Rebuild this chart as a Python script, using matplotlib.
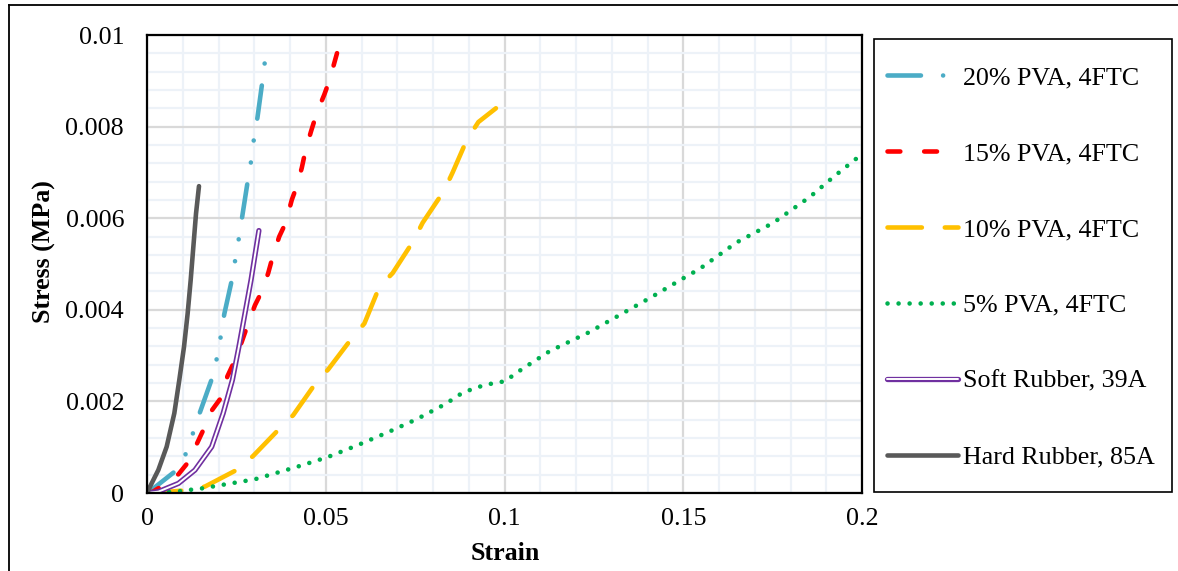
import matplotlib
matplotlib.use("Agg")
import matplotlib.pyplot as plt
from matplotlib.lines import Line2D
from matplotlib.patches import Rectangle
from matplotlib.legend_handler import HandlerTuple

plt.rcParams['font.family'] = ['Liberation Serif', 'DejaVu Serif']

# ---------------- data (strain, stress MPa) ----------------
pva20_x = [0, 0.0013, 0.0083, 0.0111, 0.013, 0.0148, 0.0184, 0.0197, 0.0207, 0.0216, 0.0239,
           0.0248, 0.0258, 0.0267, 0.0283, 0.0293, 0.0300, 0.0309, 0.0323, 0.0331]
pva20_y = [0, 0.00007, 0.0005, 0.00089, 0.00134, 0.00176, 0.00255, 0.0030, 0.00345, 0.0039, 0.00471,
           0.00515, 0.00561, 0.00607, 0.00687, 0.00733, 0.0078, 0.0082, 0.0090, 0.0095]

pva15_x = [0, 0.0017, 0.0041, 0.0088, 0.0116, 0.0141, 0.0162, 0.0181, 0.0209, 0.0225, 0.0246,
           0.0265, 0.0283, 0.0302, 0.0321, 0.0339, 0.0353, 0.0370, 0.0388, 0.0405, 0.0419,
           0.0433, 0.0444, 0.0459, 0.0475, 0.0496, 0.0510, 0.0535]
pva15_y = [0, 0.00003, 0.00015, 0.00041, 0.00068, 0.0011, 0.00145, 0.0018, 0.0021, 0.00255, 0.0029,
           0.0033, 0.0037, 0.0041, 0.0044, 0.0048, 0.0052, 0.0056, 0.0059, 0.0064, 0.0067,
           0.0071, 0.0075, 0.0079, 0.0083, 0.0087, 0.0090, 0.0097]

pva10_x = [0, 0.005, 0.011, 0.0162, 0.0255, 0.0297, 0.037, 0.0409, 0.0472, 0.0507, 0.0575,
           0.0608, 0.065, 0.0687, 0.0745, 0.0771, 0.0831, 0.0855, 0.0894, 0.0927, 0.0976]
pva10_y = [0, 0.00002, 0.00006, 0.00014, 0.00052, 0.00081, 0.0014, 0.0017, 0.0024, 0.0027, 0.0034,
           0.0037, 0.0045, 0.0048, 0.0055, 0.0059, 0.0066, 0.0070, 0.0077, 0.0081, 0.0084]

pva5_x = [0, 0.008, 0.0153, 0.0302, 0.0419, 0.0504, 0.0588, 0.0672, 0.0754, 0.0834, 0.0885,
          0.0945, 0.1001, 0.1048, 0.1127, 0.1234, 0.1314, 0.1416, 0.1496, 0.1547, 0.1649,
          0.1752, 0.1855, 0.192, 0.2]
pva5_y = [0, 0.00003, 0.0001, 0.0003, 0.00057, 0.00078, 0.00104, 0.00132, 0.00161, 0.00194, 0.0022,
          0.00236, 0.00244, 0.0027, 0.0031, 0.0035, 0.00385, 0.0043, 0.00467, 0.0049, 0.00547,
          0.0059, 0.00647, 0.0069, 0.0074]

soft_x = [0, 0.0032, 0.0088, 0.0134, 0.0181, 0.0213, 0.0239, 0.0257, 0.0274, 0.0291, 0.0313]
soft_y = [0, 0.00003, 0.00021, 0.0005, 0.00101, 0.00174, 0.00247, 0.00319, 0.00392, 0.00465, 0.00573]

hard_x = [0, 0.00084, 0.00317, 0.0055, 0.00764, 0.00904, 0.01035, 0.01137, 0.01222, 0.01297, 0.01371, 0.01454]
hard_y = [0, 0.000138, 0.000502, 0.00101, 0.00174, 0.00247, 0.00319, 0.00392, 0.00465, 0.00538, 0.0061, 0.0067]

labels = ['20% PVA, 4FTC', '15% PVA, 4FTC', '10% PVA, 4FTC', '5% PVA, 4FTC',
          'Soft Rubber, 39A', 'Hard Rubber, 85A']
x_ticks = [0, 0.05, 0.1, 0.15, 0.2]
x_tick_labels = ['0', '0.05', '0.1', '0.15', '0.2']
y_ticks = [0, 0.002, 0.004, 0.006, 0.008, 0.01]
y_tick_labels = ['0', '0.002', '0.004', '0.006', '0.008', '0.01']

# ---------------- figure ----------------
W, H = 1178, 571
fig = plt.figure(figsize=(W / 100, H / 100), dpi=100)
ax = fig.add_axes([147 / W, 1 - 493 / H, (862 - 147) / W, (493 - 35) / H])

FS = 18.7
LW = 3.3

ax.set_xlim(0, 0.2)
ax.set_ylim(0, 0.01)
ax.set_xticks(x_ticks)
ax.set_xticklabels(x_tick_labels)
ax.set_yticks(y_ticks)
ax.set_yticklabels(y_tick_labels)
ax.set_xticks([i * 0.01 for i in range(21)], minor=True)
ax.set_yticks([i * 0.0004 for i in range(26)], minor=True)
ax.tick_params(which='both', length=0)
ax.tick_params(axis='x', pad=11, labelsize=FS)
ax.tick_params(axis='y', pad=16.5, labelsize=FS)
ax.grid(which='minor', color='#EDF2F8', linewidth=1.6, zorder=0)
ax.grid(which='major', color='#D9D9D9', linewidth=1.6, zorder=0)
ax.set_axisbelow(True)
for s in ax.spines.values():
    s.set_linewidth(1.6)
    s.set_color('black')
    s.set_zorder(10)

l20, = ax.plot(pva20_x, pva20_y, color='#4BACC6', lw=LW,
               linestyle=(0, (7.3, 4.83, 0.01, 4.83, 0.01, 4.83)),
               dash_capstyle='round', solid_capstyle='round', zorder=3)
l15, = ax.plot(pva15_x, pva15_y, color='#FF0000', lw=LW,
               linestyle=(0, (2.8, 5.2)), dash_capstyle='round', zorder=4)
l10, = ax.plot(pva10_x, pva10_y, color='#FFC000', lw=LW,
               linestyle=(0, (7.5, 5.0)), dash_capstyle='round', zorder=5)
l5, = ax.plot(pva5_x, pva5_y, color='#00B050', lw=LW,
              linestyle=(0, (0.01, 2.4)), dash_capstyle='round', zorder=6)
ls_outer, = ax.plot(soft_x, soft_y, color='#7030A0', lw=3.8, solid_capstyle='round', zorder=7)
ls_inner, = ax.plot(soft_x, soft_y, color='white', lw=1.4, solid_capstyle='round', zorder=7.1)
lh, = ax.plot(hard_x, hard_y, color='#595959', lw=LW, solid_capstyle='round', zorder=8)

ax.set_xlabel('Strain', fontsize=FS, fontweight='bold', va='center')
ax.xaxis.set_label_coords((505 - 147) / 715, (493 - 553) / 458)
ax.set_ylabel('Stress (MPa)', fontsize=FS, fontweight='bold', va='center')
ax.yaxis.set_label_coords((44 - 147) / 715, (493 - 252) / 458)

# legend
leg = fig.legend([l20, l15, l10, l5, (ls_outer, ls_inner), lh], labels,
                 handler_map={tuple: HandlerTuple(ndivide=1)},
                 loc='upper left', bbox_to_anchor=(887 / W, 1 - 66 / H),
                 frameon=False, fontsize=FS, borderpad=0, borderaxespad=0,
                 handlelength=2.73, handletextpad=0.2, labelspacing=2.03)
fig.add_artist(Rectangle((874 / W, 1 - 492 / H), (1172 - 874) / W, (492 - 39) / H,
                         transform=fig.transFigure, fill=False, edgecolor='black', lw=1.2))

# chart-area border (top and left visible)
fig.add_artist(Line2D([9 / W, 1.0], [1 - 5 / H, 1 - 5 / H], transform=fig.transFigure,
                      color='black', lw=1.3))
fig.add_artist(Line2D([9 / W, 9 / W], [0, 1 - 5 / H], transform=fig.transFigure,
                      color='black', lw=1.3))

fig.savefig('out.png', dpi=100)
